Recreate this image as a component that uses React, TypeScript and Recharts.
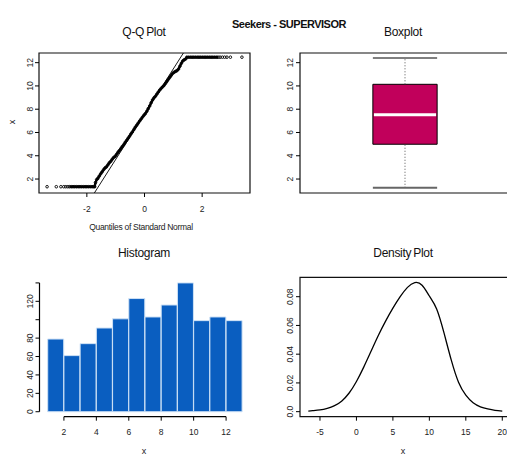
import React from 'react';
import {
  ComposedChart,
  Scatter,
  Line,
  Bar,
  XAxis,
  YAxis,
  ReferenceArea,
  ReferenceLine,
} from 'recharts';

const FONT = '"Liberation Sans", Arial, sans-serif';

// Q-Q plot: [theoretical quantile, sample value]
const qqPoints: [number, number][] = [
  [-3.38, 1.34], [-3.06, 1.34], [-2.9, 1.34], [-2.8, 1.34], [-2.73, 1.34], [-2.66, 1.34],
  [-2.6, 1.34], [-2.54, 1.34], [-2.48, 1.34], [-2.42, 1.34], [-2.36, 1.34], [-2.3, 1.34],
  [-2.24, 1.34], [-2.18, 1.34], [-2.12, 1.34], [-2.06, 1.34], [-2.0, 1.34], [-1.94, 1.34],
  [-1.88, 1.34], [-1.82, 1.34], [-1.77, 1.34], [-1.73, 1.34],
  [-1.7, 1.7], [-1.66, 1.95], [-1.62, 2.05], [-1.57, 2.25], [-1.52, 2.45], [-1.47, 2.62],
  [-1.42, 2.8], [-1.37, 2.95], [-1.32, 3.05], [-1.27, 3.22], [-1.22, 3.4], [-1.17, 3.52],
  [-1.12, 3.7], [-1.07, 3.85], [-1.02, 3.95], [-0.97, 4.12], [-0.92, 4.3], [-0.87, 4.45],
  [-0.82, 4.62], [-0.77, 4.8], [-0.72, 4.95], [-0.67, 5.15], [-0.62, 5.32], [-0.57, 5.5],
  [-0.52, 5.68], [-0.47, 5.88], [-0.42, 6.05], [-0.37, 6.25], [-0.32, 6.45], [-0.27, 6.62],
  [-0.22, 6.8], [-0.17, 6.98], [-0.12, 7.15], [-0.07, 7.32], [-0.02, 7.48], [0.03, 7.62],
  [0.08, 7.82], [0.13, 8.05], [0.18, 8.28], [0.23, 8.55], [0.28, 8.8], [0.33, 8.98],
  [0.38, 9.12], [0.43, 9.3], [0.48, 9.48], [0.53, 9.65], [0.58, 9.8], [0.63, 9.92],
  [0.68, 10.05], [0.73, 10.22], [0.78, 10.4], [0.83, 10.58], [0.88, 10.75], [0.93, 10.92],
  [0.98, 11.08], [1.03, 11.18], [1.08, 11.25], [1.13, 11.32], [1.18, 11.45], [1.23, 11.7],
  [1.28, 11.95], [1.33, 12.15], [1.38, 12.25], [1.43, 12.32],
  [1.47, 12.47], [1.53, 12.47], [1.59, 12.47], [1.65, 12.47], [1.71, 12.47], [1.77, 12.47],
  [1.83, 12.47], [1.89, 12.47], [1.95, 12.47], [2.01, 12.47], [2.07, 12.47], [2.13, 12.47],
  [2.19, 12.47], [2.25, 12.47], [2.31, 12.47], [2.37, 12.47], [2.43, 12.47], [2.49, 12.47],
  [2.55, 12.47], [2.62, 12.47], [2.7, 12.47], [2.78, 12.47], [2.86, 12.47], [2.98, 12.47],
  [3.38, 12.47],
];
// ends of the qqline
const qqLine = [{ q: -1.74, x: 0.8 }, { q: 1.35, x: 12.83 }];

// boxplot five numbers: lower whisker, Q1, median, Q3, upper whisker
const boxStats = [1.25, 4.99, 7.52, 10.14, 12.4];

// histogram: left edge of each bin (width 1) and its count
const histBinStart = [1, 2, 3, 4, 5, 6, 7, 8, 9, 10, 11, 12];
const histCounts = [79, 61, 74, 91, 101, 123, 103, 116, 140, 99, 103, 99];

// density estimate
const densityX = [-6.6, -6, -5, -4, -3, -2, -1, 0, 1, 2, 3, 4, 5, 6, 7, 8, 9, 10, 11, 12, 13, 14, 15, 16, 17, 18, 19, 20];
const densityY = [
  0.0004, 0.0007, 0.0012, 0.0023, 0.0042, 0.0075, 0.013, 0.021, 0.031, 0.042, 0.053, 0.063, 0.072, 0.08,
  0.0865, 0.0898, 0.088, 0.0805, 0.0715, 0.055, 0.036, 0.0205, 0.0115, 0.0062, 0.0034, 0.0019, 0.0009, 0.0004,
];

const qqXTicks = [-2, 0, 2];
const xTicks12 = [2, 4, 6, 8, 10, 12];
const histYTicks = [0, 20, 40, 60, 80, 100, 120, 140];
const densXTicks = [-5, 0, 5, 10, 15, 20];
const densYTicks = [0, 0.02, 0.04, 0.06, 0.08];

const qqData = qqPoints.map(([q, x]) => ({ q, x }));
// the solid-looking run of overlapping points (the sparse tail points stay loose)
const qqDense = qqData.filter((d) => d.q > -2.62 && d.q < 2.6);
const boxData = boxStats.map((v) => ({ pos: 1, v }));
const histData = histBinStart.map((lo, i) => ({ mid: lo + 0.5, count: histCounts[i] }));
const densityData = densityX.map((x, i) => ({ x, y: densityY[i] }));

const XTick = (props: any) => {
  const { x, y, payload } = props;
  return (
    <text x={x} y={y + 12.5} textAnchor="middle" fontSize={8.5} fontFamily={FONT} fill="#222">
      {payload.value}
    </text>
  );
};

const rotTick = (fmt: (v: number) => string) => (props: any) => {
  const { x, y, payload } = props;
  return (
    <text
      x={x}
      y={y}
      transform={`rotate(-90 ${x} ${y})`}
      textAnchor="middle"
      fontSize={8.5}
      fontFamily={FONT}
      fill="#222"
    >
      {fmt(payload.value)}
    </text>
  );
};

const plainY = rotTick((v) => String(v));
const histY = rotTick((v) => (v === 100 || v === 140 ? '' : String(v)));
const densY = rotTick((v) => (v === 0 ? '0.0' : v.toFixed(2)));

const OpenDot = (p: any) => (
  <circle cx={p.cx} cy={p.cy} r={1.3} fill="none" stroke="#000" strokeWidth={0.9} />
);
const NoDot = () => <g />;

const tickLine = { stroke: '#000' };
const frame = { fill: 'none', stroke: '#111', strokeWidth: 1.2, fillOpacity: 1 };

const QQ_X = [-3.66, 3.66];
const Y12 = [0.8, 12.83];
const HIST_X = [0.494, 13.506];
const HIST_Y = [-5.4, 146.1];
const DENS_X = [-7.74, 21.06];
const DENS_Y = [-0.0035, 0.0935];

function QQPanel() {
  return (
    <ComposedChart width={260} height={240} data={qqData} margin={{ top: 53, right: 10, bottom: 17, left: 9 }}>
      <XAxis dataKey="q" type="number" domain={QQ_X} ticks={qqXTicks} allowDataOverflow interval={0}
        axisLine={false} tickLine={tickLine} tickSize={4} tickMargin={2} height={30} tick={XTick} />
      <YAxis dataKey="x" type="number" domain={Y12} ticks={xTicks12} allowDataOverflow interval={0}
        axisLine={false} tickLine={tickLine} tickSize={4} tickMargin={2} width={30} tick={plainY} />
      <ReferenceArea x1={QQ_X[0]} x2={QQ_X[1]} y1={Y12[0]} y2={Y12[1]} {...frame} ifOverflow="visible" />
      <Scatter data={qqDense} shape={NoDot} line={{ stroke: '#000', strokeWidth: 2.4 }} isAnimationActive={false} />
      <Scatter data={qqData} shape={OpenDot} isAnimationActive={false} />
      <ReferenceLine
        segment={[{ x: qqLine[0].q, y: qqLine[0].x }, { x: qqLine[1].q, y: qqLine[1].x }]}
        stroke="#000" strokeWidth={0.9} ifOverflow="visible"
      />
    </ComposedChart>
  );
}

function BoxPanel() {
  const [lo, q1, med, q3, hi] = boxStats;
  const left = 0.847;
  const right = 1.153;
  return (
    <ComposedChart width={270} height={240} data={boxData} margin={{ top: 53, right: 10, bottom: 47, left: 20 }}>
      <XAxis dataKey="pos" type="number" domain={[0.5, 1.5]} allowDataOverflow hide />
      <YAxis dataKey="v" type="number" domain={Y12} ticks={xTicks12} allowDataOverflow interval={0}
        axisLine={false} tickLine={tickLine} tickSize={4} tickMargin={3} width={30} tick={plainY} />
      <ReferenceArea x1={0.5} x2={1.5} y1={Y12[0]} y2={Y12[1]} {...frame} ifOverflow="visible" />
      <Scatter data={boxData} shape={NoDot} isAnimationActive={false} />
      <ReferenceLine segment={[{ x: 1, y: q3 }, { x: 1, y: hi }]} stroke="#555" strokeDasharray="1 2" ifOverflow="visible" />
      <ReferenceLine segment={[{ x: 1, y: lo }, { x: 1, y: q1 }]} stroke="#555" strokeDasharray="1 2" ifOverflow="visible" />
      <ReferenceLine segment={[{ x: left, y: hi }, { x: right, y: hi }]} stroke="#000" strokeWidth={1.2} ifOverflow="visible" />
      <ReferenceLine segment={[{ x: left, y: lo }, { x: right, y: lo }]} stroke="#666" strokeWidth={1.8} ifOverflow="visible" />
      <ReferenceArea x1={left} x2={right} y1={q1} y2={q3} fill="#C1005B" fillOpacity={1} stroke="#000" strokeWidth={1} ifOverflow="visible" />
      <ReferenceLine segment={[{ x: left + 0.005, y: med }, { x: right - 0.005, y: med }]} stroke="#fff" strokeWidth={3} ifOverflow="visible" />
    </ComposedChart>
  );
}

function HistPanel() {
  return (
    <ComposedChart width={260} height={217} data={histData} barCategoryGap={0} barGap={0}
      margin={{ top: 37.3, right: 9.5, bottom: 10.3, left: 9.5 }}>
      <XAxis dataKey="mid" type="number" domain={HIST_X} ticks={xTicks12} allowDataOverflow interval={0}
        axisLine={false} tickLine={tickLine} tickSize={4} tickMargin={2} height={30} tick={XTick} />
      <YAxis type="number" domain={HIST_Y} ticks={histYTicks} allowDataOverflow interval={0}
        axisLine={false} tickLine={tickLine} tickSize={4} tickMargin={2} width={30} tick={histY} />
      <Bar dataKey="count" fill="#0A5EC0" stroke="#CFE2F6" strokeWidth={1} isAnimationActive={false} />
      <ReferenceLine segment={[{ x: 2, y: HIST_Y[0] }, { x: 12, y: HIST_Y[0] }]} stroke="#000" strokeWidth={1.2} ifOverflow="visible" />
      <ReferenceLine segment={[{ x: HIST_X[0], y: 0 }, { x: HIST_X[0], y: 140 }]} stroke="#000" strokeWidth={1.2} ifOverflow="visible" />
    </ComposedChart>
  );
}

function DensityPanel() {
  return (
    <ComposedChart width={270} height={217} data={densityData} margin={{ top: 37.3, right: 10, bottom: 10.3, left: 20 }}>
      <XAxis dataKey="x" type="number" domain={DENS_X} ticks={densXTicks} allowDataOverflow interval={0}
        axisLine={false} tickLine={tickLine} tickSize={4} tickMargin={2} height={30} tick={XTick} />
      <YAxis type="number" domain={DENS_Y} ticks={densYTicks} allowDataOverflow interval={0}
        axisLine={false} tickLine={tickLine} tickSize={4} tickMargin={3} width={30} tick={densY} />
      <ReferenceArea x1={DENS_X[0]} x2={DENS_X[1]} y1={DENS_Y[0]} y2={DENS_Y[1]} {...frame} ifOverflow="visible" />
      <Line dataKey="y" type="natural" stroke="#000" strokeWidth={1.3} dot={false} isAnimationActive={false} />
    </ComposedChart>
  );
}

const titleStyle = { fontFamily: FONT, fontSize: 12, letterSpacing: -0.3, wordSpacing: -1, fill: '#111' };
const labStyle = { fontFamily: FONT, fontSize: 8.5, fill: '#222' };

export default function App() {
  return (
    <div style={{ position: 'fixed', left: 0, top: 0, width: 507, height: 457, overflow: 'hidden', background: '#fff' }}>
      <div style={{ position: 'absolute', left: 0, top: 0 }}><QQPanel /></div>
      <div style={{ position: 'absolute', left: 250, top: 0 }}><BoxPanel /></div>
      <div style={{ position: 'absolute', left: 0, top: 240 }}><HistPanel /></div>
      <div style={{ position: 'absolute', left: 250, top: 240 }}><DensityPanel /></div>
      <svg width={507} height={457} style={{ position: 'absolute', left: 0, top: 0, pointerEvents: 'none' }}>
        <text x={289} y={28} textAnchor="middle" fontFamily={FONT} fontSize={11} fontWeight="bold" letterSpacing={-0.5} fill="#111">
          Seekers - SUPERVISOR
        </text>
        <text x={144} y={36} textAnchor="middle" {...titleStyle}>Q-Q Plot</text>
        <text x={403} y={36} textAnchor="middle" {...titleStyle}>Boxplot</text>
        <text x={144} y={257} textAnchor="middle" {...titleStyle}>Histogram</text>
        <text x={403} y={257} textAnchor="middle" {...titleStyle}>Density Plot</text>
        <text x={141} y={230} textAnchor="middle" {...labStyle} letterSpacing={-0.3}>Quantiles of Standard Normal</text>
        <text x={15} y={122} textAnchor="middle" transform="rotate(-90 15 122)" {...labStyle} fontSize={9}>x</text>
        <text x={144} y={453.5} textAnchor="middle" {...labStyle} fontSize={9}>x</text>
        <text x={403} y={453.5} textAnchor="middle" {...labStyle} fontSize={9}>x</text>
      </svg>
    </div>
  );
}
